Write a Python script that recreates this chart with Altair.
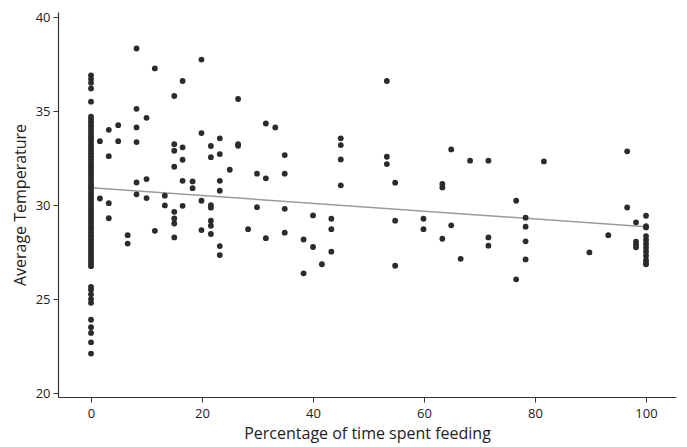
import altair as alt
import pandas as pd

# x positions (percentage of time spent feeding) and the temperatures observed at each
feeding_pct = [0, 1.6, 3.2, 4.9, 6.6, 8.2, 10.0, 11.5, 13.3, 15.0, 16.5, 18.3, 19.9,
               21.6, 23.2, 25.0, 26.5, 28.3, 29.9, 31.5, 33.2, 34.9, 38.3, 40.0, 41.6,
               43.3, 45.0, 53.3, 54.8, 59.9, 63.3, 64.9, 66.6, 68.3, 71.6, 76.6, 78.3,
               81.6, 89.8, 93.2, 96.6, 98.2, 100]

temp_groups = [
    [36.9, 36.7, 36.5, 36.2, 35.5,
     34.7, 34.55, 34.4, 34.25, 34.1, 33.95, 33.8, 33.65, 33.5, 33.35, 33.2, 33.05,
     32.9, 32.75, 32.6, 32.45, 32.3, 32.15, 32.0, 31.85, 31.7, 31.55, 31.4, 31.25,
     31.1, 30.95, 30.8, 30.65, 30.5, 30.35, 30.2, 30.05, 29.9, 29.75, 29.6, 29.45,
     29.3, 29.15, 29.0, 28.85, 28.7, 28.55, 28.4, 28.25, 28.1, 27.95, 27.8, 27.65,
     27.5, 27.35, 27.2, 27.05, 26.9, 26.75,
     25.65, 25.5, 25.25, 25.0, 24.8, 23.9, 23.5, 23.2, 22.7, 22.1],
    [33.4, 30.35],
    [34.0, 32.6, 30.1, 29.3],
    [34.25, 33.4],
    [28.4, 27.95],
    [38.33, 35.12, 34.13, 33.35, 31.2, 30.57],
    [34.64, 31.38, 30.37],
    [37.27, 28.63],
    [30.5, 29.98],
    [35.8, 33.24, 32.89, 32.04, 29.64, 29.29, 29.02, 28.28],
    [36.6, 33.07, 32.41, 31.29, 29.96],
    [31.26, 30.9],
    [37.74, 33.83, 30.23, 28.67],
    [33.14, 32.55, 30.0, 29.86, 29.17, 28.9, 28.46],
    [33.55, 32.71, 31.29, 30.76, 27.82, 27.34],
    [31.88],
    [35.64, 33.24, 33.15],
    [28.72],
    [31.67, 29.89],
    [34.34, 31.42, 28.24],
    [34.13],
    [32.66, 31.67, 29.8, 28.53],
    [28.17, 26.37],
    [29.45, 27.77],
    [26.85],
    [29.27, 28.72, 27.52],
    [33.55, 33.19, 32.43, 31.05],
    [36.6, 32.57, 32.18],
    [31.19, 29.17, 26.77],
    [29.27, 28.72],
    [31.12, 30.94, 28.21],
    [32.96, 28.92],
    [27.14],
    [32.36],
    [32.36, 28.28, 27.84],
    [30.23, 26.05],
    [29.33, 28.85, 28.07, 27.11],
    [32.32],
    [27.48],
    [28.4],
    [32.86, 29.87],
    [29.08, 28.05, 27.9, 27.75],
    [29.43, 28.88, 28.81, 28.35, 28.14, 27.93, 27.73, 27.52, 27.3, 27.07, 26.9, 26.85],
]

# fitted trend line endpoints
fit_x = [0, 100]
fit_y = [30.92, 28.85]

rows = []
for xv, temps in zip(feeding_pct, temp_groups):
    for t in temps:
        rows.append({"pct": xv, "temp": t})
points_df = pd.DataFrame(rows)
fit_df = pd.DataFrame({"pct": fit_x, "temp": fit_y})

FONT = "Open Sans"
x_scale = alt.Scale(domain=[-5.95, 105.4], nice=False, zero=False)
y_scale = alt.Scale(domain=[19.79, 40.27], nice=False, zero=False)

x_axis = alt.Axis(title="Percentage of time spent feeding", values=[0, 20, 40, 60, 80, 100],
                  grid=False, tickSize=5, labelFontSize=13, titleFontSize=16,
                  titleFontWeight="normal", titlePadding=5, labelPadding=5,
                  labelFont=FONT, titleFont=FONT)
y_axis = alt.Axis(title="Average Temperature", values=[20, 25, 30, 35, 40],
                  grid=False, tickSize=5, labelFontSize=13, titleFontSize=16,
                  titleFontWeight="normal", titlePadding=7, labelPadding=3,
                  labelFont=FONT, titleFont=FONT)

points = alt.Chart(points_df).mark_circle(size=34, color="#2b2b2b", opacity=1).encode(
    x=alt.X("pct:Q", scale=x_scale, axis=x_axis),
    y=alt.Y("temp:Q", scale=y_scale, axis=y_axis),
)

fit = alt.Chart(fit_df).mark_line(color="#9a9a9a", strokeWidth=1.5).encode(
    x=alt.X("pct:Q", scale=x_scale),
    y=alt.Y("temp:Q", scale=y_scale),
)

chart = (fit + points).properties(
    width=618, height=385,
    autosize="none",
    padding={"left": 50, "top": 4, "right": 3, "bottom": 50},
).configure(background="white", font=FONT).configure_view(stroke=None).configure_axis(
    labelColor="#222222", titleColor="#222222",
    domainColor="#333333", tickColor="#333333", domainWidth=1.2,
)

chart.save("out.html", embed_options={"renderer": "svg", "actions": False})
